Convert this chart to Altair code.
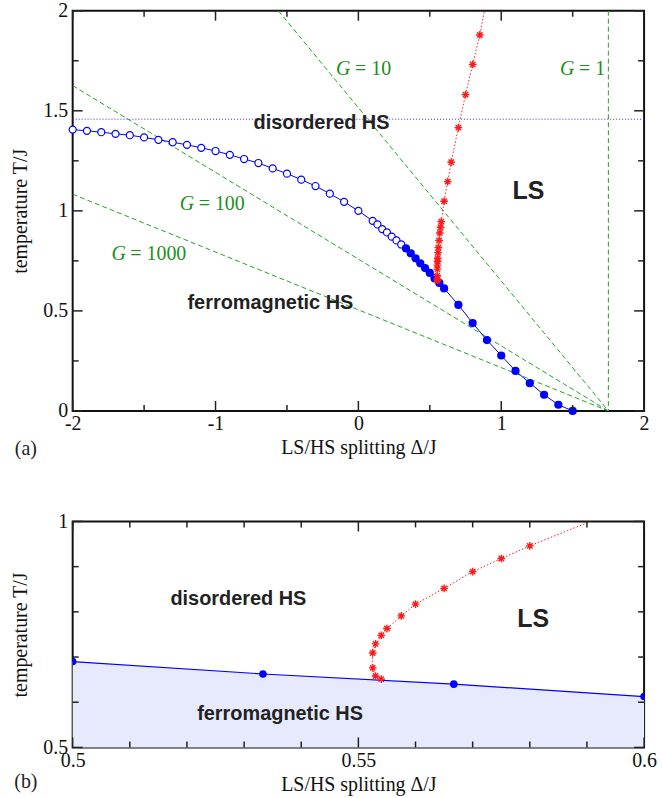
import altair as alt
import pandas as pd

# ---------------- data ----------------
open_x = [-2.0, -1.9, -1.8, -1.7, -1.6, -1.5, -1.4, -1.3, -1.2, -1.1, -1.0,
          -0.9, -0.8, -0.7, -0.6, -0.5, -0.4, -0.3, -0.2, -0.1, 0.0,
          0.1, 0.1333, 0.1667, 0.2, 0.2333, 0.2667, 0.3]
open_T = [1.406, 1.400, 1.393, 1.385, 1.378, 1.367, 1.355, 1.343, 1.330, 1.315, 1.299,
          1.280, 1.259, 1.239, 1.212, 1.186, 1.156, 1.124, 1.086, 1.045, 1.000,
          0.950, 0.932, 0.909, 0.892, 0.871, 0.852, 0.832]

filled_x = [0.3333, 0.3667, 0.4, 0.4333, 0.4667, 0.5, 0.5333, 0.5667, 0.6,
            0.7, 0.8, 0.9, 1.0, 1.1, 1.2, 1.3, 1.4, 1.5]
filled_T = [0.812, 0.788, 0.763, 0.738, 0.714, 0.690, 0.6625, 0.640, 0.6125,
            0.530, 0.439, 0.354, 0.277, 0.200, 0.139, 0.081, 0.031, 0.0]

ls_x = [0.554, 0.553, 0.5525, 0.5525, 0.553, 0.554, 0.555, 0.5575, 0.560, 0.565,
        0.570, 0.575, 0.580, 0.600, 0.625, 0.650, 0.700, 0.750, 0.800, 0.850, 0.900]
ls_T = [0.651, 0.658, 0.676, 0.709, 0.729, 0.748, 0.763, 0.791, 0.817, 0.852,
        0.889, 0.918, 0.946, 1.048, 1.146, 1.243, 1.416, 1.581, 1.732, 1.879, 2.068]

g_names = ["1", "10", "100", "1000"]
g_start_x = [1.75, -0.56, -2.0, -2.0]
g_start_T = [2.0, 2.0, 1.626, 1.083]
g_end_x = [1.75, 1.75, 1.75, 1.75]
g_end_T = [0.0, 0.0, 0.0, 0.0]
g_label_x = [1.412, -0.156, -1.25, -1.729]
g_label_T = [1.71, 1.71, 1.033, 0.785]

T_disordered = 1.458

top_region_text = ["disordered HS", "ferromagnetic HS", "LS"]
top_region_x = [-0.258, -0.616, 1.19]
top_region_T = [1.439, 0.541, 1.099]
bot_region_text = ["disordered HS", "ferromagnetic HS", "LS"]
bot_region_x = [0.529, 0.5363, 0.5806]
bot_region_T = [0.829, 0.5735, 0.783]

top_x_major = [-2, -1, 0, 1, 2]
top_x_minor = [-1.5, -0.5, 0.5, 1.5]
top_y_major = [0, 0.5, 1, 1.5, 2]
top_y_minor = [0.25, 0.75, 1.25, 1.75]
bot_x_major = [0.5, 0.55, 0.6]
bot_x_minor = [0.51, 0.52, 0.53, 0.54, 0.56, 0.57, 0.58, 0.59]
bot_y_major = [0.5, 1]
bot_y_minor = [0.6, 0.7, 0.8, 0.9]

# ---------------- tables ----------------
blue_all = pd.DataFrame({"x": open_x + filled_x, "T": open_T + filled_T})
open_df = pd.DataFrame({"x": open_x, "T": open_T})
filled_df = pd.DataFrame({"x": filled_x, "T": filled_T})
ls_df = pd.DataFrame({"x": ls_x, "T": ls_T, "i": list(range(len(ls_x)))})
g_rows = []
for n, xs, ts, xe, te in zip(g_names, g_start_x, g_start_T, g_end_x, g_end_T):
    g_rows.append({"G": n, "x": xs, "T": ts})
    g_rows.append({"G": n, "x": xe, "T": te})
g_df = pd.DataFrame(g_rows)
g_lab_df = pd.DataFrame({"x": g_label_x, "T": g_label_T, "num": ["= " + n for n in g_names]})

GREEN_LINE = "#25a025"
GREEN_TEXT = "#1b8f1b"
BLUE = "#0000ff"
RED = "#ff1a1a"
SERIF = "Liberation Serif"
SANS = "Liberation Sans"
STAR = "M0,-1L0,1M-1,0L1,0M-0.7,-0.7L0.7,0.7M-0.7,0.7L0.7,-0.7"


def encoders(xdom, ydom, xmaj, ymaj):
    xs = alt.Scale(domain=xdom, nice=False, zero=False)
    ys = alt.Scale(domain=ydom, nice=False, zero=False)
    xa = alt.Axis(values=xmaj, title="LS/HS splitting Δ/J", labelExpr="'' + datum.value")
    ya = alt.Axis(values=ymaj, title="temperature T/J", labelExpr="'' + datum.value")

    def X(f="x"):
        return alt.X(f + ":Q", scale=xs, axis=xa)

    def Y(f="T"):
        return alt.Y(f + ":Q", scale=ys, axis=ya)

    return X, Y


def ticks(X, Y, W, H, xmaj, xmin, ymaj, ymin):
    layers = []
    for vals, L in ((xmaj, 10), (xmin, 6)):
        d = pd.DataFrame({"x": vals})
        base = alt.Chart(d).mark_rule(color="#222", strokeWidth=1.5)
        layers.append(base.encode(x=X(), y=alt.value(H), y2=alt.value(H - L)))
        layers.append(base.encode(x=X(), y=alt.value(0), y2=alt.value(L)))
    for vals, L in ((ymaj, 10), (ymin, 6)):
        d = pd.DataFrame({"T": vals})
        base = alt.Chart(d).mark_rule(color="#222", strokeWidth=1.5)
        layers.append(base.encode(y=Y(), x=alt.value(0), x2=alt.value(L)))
        layers.append(base.encode(y=Y(), x=alt.value(W), x2=alt.value(W - L)))
    return layers


def region_text(X, Y, texts, xs, ts):
    d = pd.DataFrame({"x": xs, "T": ts, "t": texts})
    small = alt.Chart(d[d.t != "LS"]).mark_text(
        font=SANS, fontWeight="bold", fontSize=20, color="#222", align="center", baseline="middle"
    ).encode(x=X(), y=Y(), text="t:N")
    big = alt.Chart(d[d.t == "LS"]).mark_text(
        font=SANS, fontWeight="bold", fontSize=25, color="#222", align="center", baseline="middle"
    ).encode(x=X(), y=Y(), text="t:N")
    return [small, big]


# ---------------- top panel ----------------
W1, H1 = 574, 402
X, Y = encoders([-2, 2], [0, 2], top_x_major, top_y_major)

g_lines = alt.Chart(g_df).mark_line(color=GREEN_LINE, strokeWidth=1, strokeDash=[5, 3], clip=True).encode(
    x=X(), y=Y(), detail="G:N")
dis_line = alt.Chart(pd.DataFrame({"T": [T_disordered]})).mark_rule(
    color="#2a2aff", strokeWidth=1, strokeDash=[1, 2]).encode(y=Y(), x=alt.value(0), x2=alt.value(W1))
blue_line = alt.Chart(blue_all).mark_line(color=BLUE, strokeWidth=1).encode(x=X(), y=Y())
open_pts = alt.Chart(open_df).mark_point(shape="circle", filled=True, fill="white", stroke=BLUE,
                                         strokeWidth=1.2, size=50, opacity=1).encode(x=X(), y=Y())
filled_pts = alt.Chart(filled_df).mark_circle(color=BLUE, size=68, opacity=1).encode(x=X(), y=Y())
red_line = alt.Chart(ls_df).mark_line(color=RED, strokeWidth=1, strokeDash=[1.5, 2], clip=True).encode(
    x=X(), y=Y(), order="i:Q")
red_pts = alt.Chart(ls_df).mark_point(shape=STAR, filled=False, color=RED, strokeWidth=1.4,
                                      size=60, opacity=1, clip=True).encode(x=X(), y=Y())
g_G = alt.Chart(g_lab_df).mark_text(font=SERIF, fontStyle="italic", fontSize=20, color=GREEN_TEXT,
                                    align="left", baseline="middle").encode(x=X(), y=Y(), text=alt.value("G"))
g_num = alt.Chart(g_lab_df).mark_text(font=SERIF, fontSize=20, color=GREEN_TEXT, align="left",
                                      baseline="middle", dx=19).encode(x=X(), y=Y(), text="num:N")
lab_a = alt.Chart(pd.DataFrame({"t": ["(a)"]})).mark_text(
    font=SERIF, fontSize=20, color="#222", align="center", baseline="middle").encode(
    x=alt.value(-47), y=alt.value(H1 + 38), text="t:N")

top = alt.layer(
    g_lines, dis_line, blue_line, open_pts, filled_pts, red_line, red_pts,
    *region_text(X, Y, top_region_text, top_region_x, top_region_T),
    g_G, g_num,
    *ticks(X, Y, W1, H1, top_x_major, top_x_minor, top_y_major, top_y_minor),
    lab_a,
).properties(width=W1, height=H1)

# ---------------- bottom panel ----------------
W2, H2 = 574, 227
X2, Y2 = encoders([0.5, 0.6], [0.5, 1.0], bot_x_major, bot_y_major)

area = alt.Chart(filled_df).mark_area(color="#e7eafd", opacity=1, clip=True).encode(
    x=X2(), y=Y2(), y2=alt.value(H2))
blue_line2 = alt.Chart(blue_all).mark_line(color=BLUE, strokeWidth=1.2, clip=True).encode(x=X2(), y=Y2())
filled_pts2 = alt.Chart(filled_df).mark_circle(color=BLUE, size=58, opacity=1, clip=True).encode(x=X2(), y=Y2())
red_line2 = alt.Chart(ls_df).mark_line(color=RED, strokeWidth=1, strokeDash=[1.5, 2], clip=True).encode(
    x=X2(), y=Y2(), order="i:Q")
red_pts2 = alt.Chart(ls_df).mark_point(shape=STAR, filled=False, color=RED, strokeWidth=1.4,
                                       size=60, opacity=1, clip=True).encode(x=X2(), y=Y2())
lab_b = alt.Chart(pd.DataFrame({"t": ["(b)"]})).mark_text(
    font=SERIF, fontSize=20, color="#222", align="center", baseline="middle").encode(
    x=alt.value(-47), y=alt.value(H2 + 35), text="t:N")

bottom = alt.layer(
    area, blue_line2, filled_pts2, red_line2, red_pts2,
    *region_text(X2, Y2, bot_region_text, bot_region_x, bot_region_T),
    *ticks(X2, Y2, W2, H2, bot_x_major, bot_x_minor, bot_y_major, bot_y_minor),
    lab_b,
).properties(width=W2, height=H2)

chart = alt.vconcat(top, bottom, spacing=51).properties(
    padding={"left": 10, "top": -2, "right": 5, "bottom": 0}
).configure_view(
    stroke="#111", strokeWidth=2
).configure_axis(
    labelFont=SERIF, labelFontSize=20, labelColor="#111",
    titleFont=SERIF, titleFontSize=20, titleFontWeight="normal", titleColor="#111",
    ticks=False, tickSize=0, domain=False, grid=False,
    labelFlush=False, labelOverlap=False,
).configure_axisX(
    labelPadding=3, titlePadding=4
).configure_axisY(
    labelPadding=5, titlePadding=12
)

chart.save("out.html", embed_options={"renderer": "svg", "actions": False})
